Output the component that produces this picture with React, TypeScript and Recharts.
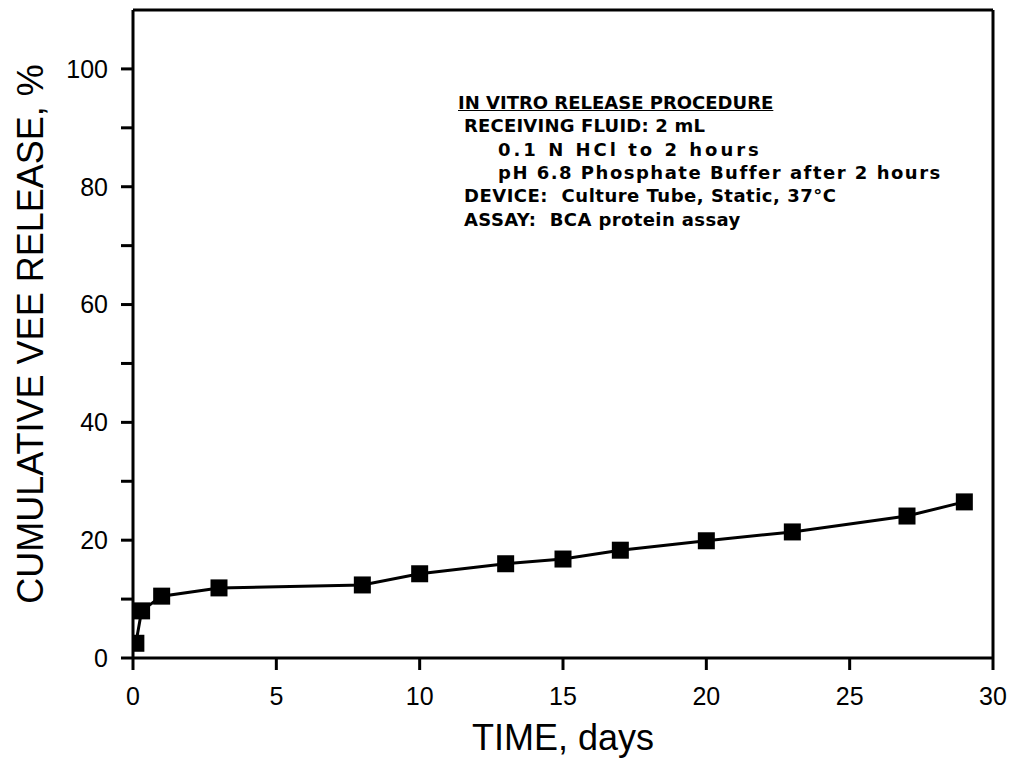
import React from 'react';
import {
  LineChart,
  Line,
  XAxis,
  YAxis,
  ReferenceLine,
} from 'recharts';

const timeDays = [0.1, 0.3, 1, 3, 8, 10, 13, 15, 17, 20, 23, 27, 29];
const releasePct = [2.5, 8, 10.5, 11.9, 12.4, 14.3, 16, 16.8, 18.3, 19.9, 21.4, 24.1, 26.5];
const xTicks = [0, 5, 10, 15, 20, 25, 30];
const yTicks = [0, 10, 20, 30, 40, 50, 60, 70, 80, 90, 100];
const noteLines = [
  'IN VITRO RELEASE PROCEDURE',
  'RECEIVING FLUID: 2 mL',
  '0.1 N HCl to 2 hours',
  'pH 6.8 Phosphate Buffer after 2 hours',
  'DEVICE:  Culture Tube, Static, 37°C',
  'ASSAY:  BCA protein assay',
];

const chartData = timeDays.map((t, i) => ({ t, pct: releasePct[i] }));

const FONT = '"Liberation Sans", Arial, Helvetica, sans-serif';

// left edge + letter spacing per note line (the scanned plotter font is wide in lowercase)
const noteStyle = [
  { left: 458, spacing: 0 },
  { left: 464, spacing: 0.2 },
  { left: 498, spacing: 3 },
  { left: 498, spacing: 1.5 },
  { left: 464, spacing: 0.5 },
  { left: 464, spacing: 0.4 },
];

const SquareDot = (props: any) => {
  const { cx, cy } = props;
  if (cx == null || cy == null) return null;
  const s = 17;
  return <rect x={cx - s / 2} y={cy - s / 2} width={s} height={s} fill="#000" />;
};

const YTitle = (props: any) => {
  const { viewBox } = props;
  const cx = viewBox.x + 30;
  const cy = viewBox.y + viewBox.height / 2;
  return (
    <text
      x={cx}
      y={cy}
      transform={`rotate(-90 ${cx} ${cy})`}
      textAnchor="middle"
      dominantBaseline="central"
      fontFamily={FONT}
      fontSize={36}
      fill="#000"
    >
      CUMULATIVE VEE RELEASE, %
    </text>
  );
};

const XTitle = (props: any) => {
  const { viewBox } = props;
  const cx = viewBox.x + viewBox.width / 2;
  const cy = viewBox.y + 79;
  return (
    <text
      x={cx}
      y={cy}
      textAnchor="middle"
      dominantBaseline="central"
      fontFamily={FONT}
      fontSize={36}
      fill="#000"
    >
      TIME, days
    </text>
  );
};

const App: React.FC = () => {
  return (
    <div style={{ position: 'absolute', left: 0, top: 0, width: 1016, height: 763, background: '#fff' }}>
      <LineChart
        width={1016}
        height={763}
        data={chartData}
        margin={{ top: 10, right: 23, bottom: 45, left: 0 }}
      >
        <XAxis
          dataKey="t"
          type="number"
          domain={[0, 30]}
          ticks={xTicks}
          allowDataOverflow
          height={60}
          stroke="#000"
          strokeWidth={3}
          tickSize={12}
          tickMargin={17}
          tick={{ fill: '#000', fontSize: 25, fontFamily: FONT }}
          label={XTitle}
        />
        <YAxis
          type="number"
          domain={[0, 110]}
          ticks={yTicks}
          allowDataOverflow
          width={133}
          stroke="#000"
          strokeWidth={3}
          tickSize={12}
          tickMargin={13}
          tickFormatter={(v: number) => (v % 20 === 0 ? String(v) : '')}
          tick={{ fill: '#000', fontSize: 25, fontFamily: FONT }}
          label={YTitle}
        />
        <ReferenceLine y={110} stroke="#000" strokeWidth={3} />
        <ReferenceLine x={30} stroke="#000" strokeWidth={3} />
        <Line
          type="linear"
          dataKey="pct"
          stroke="#000"
          strokeWidth={3}
          dot={<SquareDot />}
          activeDot={false}
          isAnimationActive={false}
        />
      </LineChart>
      {noteLines.map((line, i) => (
        <div
          key={i}
          style={{
            position: 'absolute',
            left: noteStyle[i].left,
            top: 92 + i * 23.3,
            fontFamily: '"DejaVu Sans", sans-serif',
            fontWeight: 'bold',
            fontSize: 18,
            lineHeight: '22px',
            whiteSpace: 'pre',
            letterSpacing: noteStyle[i].spacing,
            textDecoration: i === 0 ? 'underline' : 'none',
            color: '#000',
          }}
        >
          {line}
        </div>
      ))}
    </div>
  );
};

export default App;
